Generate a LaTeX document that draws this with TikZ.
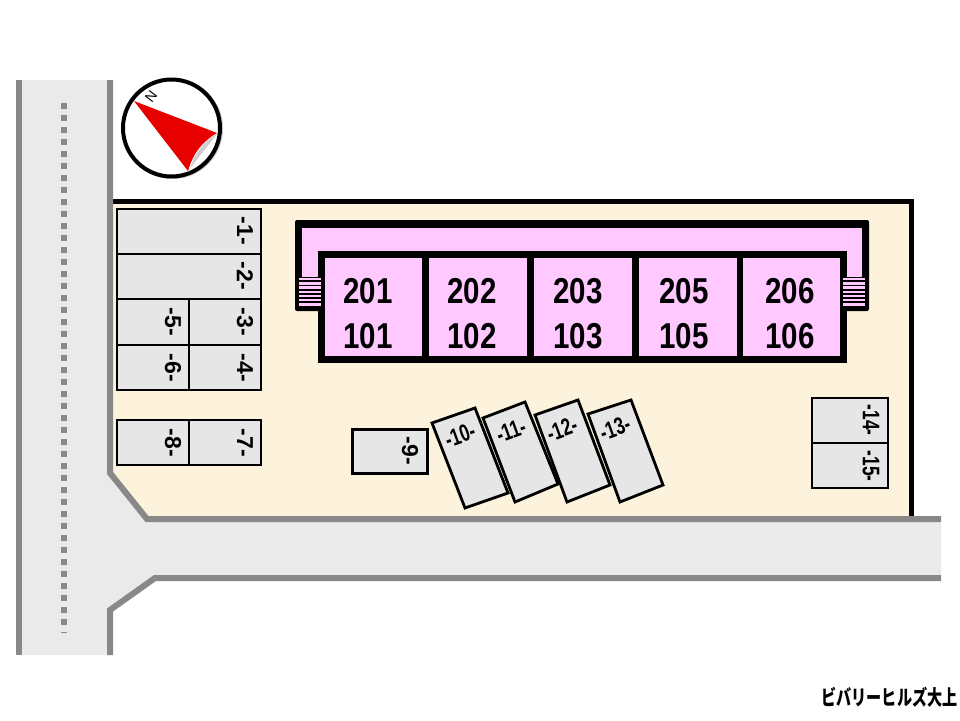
\documentclass[tikz,border=0pt]{standalone}
\usepackage{fontspec}
\setmainfont{Liberation Sans}
\newfontfamily\roomfont[FakeStretch=0.82]{Liberation Sans}
\newfontfamily\lotfont[FakeStretch=1.0]{Liberation Sans}
\newfontfamily\slimfont[FakeStretch=0.72]{Liberation Sans}
\newfontfamily\cjkfont[FakeStretch=0.72]{Noto Sans CJK JP}
\definecolor{roadgrey}{HTML}{EAEAEA}
\definecolor{edgegrey}{HTML}{888888}
\definecolor{plotcream}{HTML}{FDF3DC}
\definecolor{roompink}{HTML}{FFC8FF}
\definecolor{lotgrey}{HTML}{E6E6E6}
\definecolor{arrowred}{HTML}{E60000}
\tikzset{
  roadedge/.style={draw=edgegrey,line width=6pt},
  lot/.style={draw=black,fill=lotgrey,line width=2.8pt},
  room/.style={fill=roompink},
  roomlabel/.style={font=\roomfont\bfseries\fontsize{36}{36}\selectfont,inner sep=0pt},
  lotlabel/.style={font=\lotfont\bfseries\fontsize{23}{23}\selectfont,inner sep=0pt,rotate=-90},
  slimlabel/.style={font=\slimfont\bfseries\fontsize{24}{24}\selectfont,inner sep=0pt,rotate=-90},
  tiltlabel/.style={font=\slimfont\bfseries\fontsize{24}{24}\selectfont,inner sep=0pt,rotate=20},
  stairs/.style={draw=roompink,line width=22pt,dash pattern=on 2.4pt off 1.8pt}
}
\begin{document}
\begin{tikzpicture}[x=1pt,y=-1pt]
    \useasboundingbox (0,0) rectangle (960,720);

    % road and plot
    \fill[roadgrey] (19,80) -- (110,80) -- (110,473) -- (147,519) -- (941,519) -- (941,578) -- (155,578) -- (110,610) -- (110,655) -- (19,655) -- cycle;
    \fill[plotcream] (110,201) -- (911,201) -- (911,519) -- (147,519) -- (110,473) -- cycle;
    \draw[line width=5pt] (113,201) -- (911,201) -- (911,517);
    \draw[roadedge] (19,80) -- (19,655);
    \draw[roadedge] (110,80) -- (110,473) -- (147,519) -- (941,519);
    \draw[roadedge] (941,578) -- (155,578) -- (110,610) -- (110,655);
    \draw[edgegrey,line width=6pt,dash pattern=on 6pt off 6pt] (64,103) -- (64,628);
    \draw[edgegrey,line width=1pt] (61,632) -- (67,632);

    % compass
    \draw[edgegrey!50,line width=4pt] (172.5,128.5) circle [radius=48.5];
    \draw[fill=white,line width=4pt] (171.5,128) circle [radius=48.5];
    \fill[edgegrey!40] (217,134) .. controls (203,142) and (194,154) .. (189,172) -- (188,171) -- cycle;
    \fill[arrowred] (134,101) -- (217,133) .. controls (203,141) and (193,153) .. (188,171) -- cycle;
    \node[rotate=53,font=\fontsize{14}{14}\selectfont,inner sep=0pt] (north) at (151,97) {N};

    % building
    \fill[black,rounded corners=2pt] (295,220) rectangle (869,311);
    \fill[room] (302,228) rectangle (862,300);
    \fill[black] (318,251) rectangle (847,363);
    \fill[room] (325,258) rectangle (422,356);
    \fill[room] (429,258) rectangle (527,356);
    \fill[room] (534,258) rectangle (632,356);
    \fill[room] (639,258) rectangle (737,356);
    \fill[room] (743,258) rectangle (840,356);
    \fill[black] (299,277) rectangle (321,307);
    \fill[black] (843,277) rectangle (865,307);
    \draw[stairs] (310,278) -- (310,307);
    \draw[stairs] (854,278) -- (854,307);

    \node[roomlabel] (r201) at (368,291) {201};
    \node[roomlabel] (r101) at (368,336) {101};
    \node[roomlabel] (r202) at (472,291) {202};
    \node[roomlabel] (r102) at (472,336) {102};
    \node[roomlabel] (r203) at (578,291) {203};
    \node[roomlabel] (r103) at (578,336) {103};
    \node[roomlabel] (r205) at (684,291) {205};
    \node[roomlabel] (r105) at (684,336) {105};
    \node[roomlabel] (r206) at (790,291) {206};
    \node[roomlabel] (r106) at (790,336) {106};

    % parking
    \draw[lot] (117,209) rectangle (261,254);
    \draw[lot] (117,254) rectangle (261,299);
    \draw[lot] (189,299) rectangle (261,345);
    \draw[lot] (189,345) rectangle (261,390);
    \draw[lot] (117,299) rectangle (189,345);
    \draw[lot] (117,345) rectangle (189,390);
    \draw[lot] (189,420) rectangle (261,465);
    \draw[lot] (117,420) rectangle (189,465);
    \draw[lot,line width=3pt] (352,429) rectangle (427,473);
    \draw[lot] (432,423) -- (475,408) -- (508,493) -- (465,508) -- cycle;
    \draw[lot] (483,418) -- (525,402) -- (558,484) -- (515,502) -- cycle;
    \draw[lot] (535,415) -- (578,400) -- (610,485) -- (567,502) -- cycle;
    \draw[lot] (588,414) -- (631,400) -- (663,485) -- (620,502) -- cycle;
    \draw[lot] (812,398) rectangle (888,443);
    \draw[lot] (812,443) rectangle (888,488);

    \node[lotlabel] (p1) at (245,231) {-1-};
    \node[lotlabel] (p2) at (245,276) {-2-};
    \node[lotlabel] (p3) at (245,322) {-3-};
    \node[lotlabel] (p4) at (245,368) {-4-};
    \node[lotlabel] (p5) at (173,322) {-5-};
    \node[lotlabel] (p6) at (173,368) {-6-};
    \node[lotlabel] (p7) at (245,443) {-7-};
    \node[lotlabel] (p8) at (173,443) {-8-};
    \node[lotlabel] (p9) at (410,451) {-9-};
    \node[tiltlabel] (p10) at (460,435) {-10-};
    \node[tiltlabel] (p11) at (511,431) {-11-};
    \node[tiltlabel] (p12) at (562,429) {-12-};
    \node[tiltlabel] (p13) at (615,428) {-13-};
    \node[slimlabel] (p14) at (871,420) {-14-};
    \node[slimlabel] (p15) at (871,466) {-15-};

    \node[font=\cjkfont\bfseries\fontsize{21}{21}\selectfont,inner sep=0pt] (name) at (889.5,697.5) {ビバリーヒルズ大上};
\end{tikzpicture}
\end{document}
